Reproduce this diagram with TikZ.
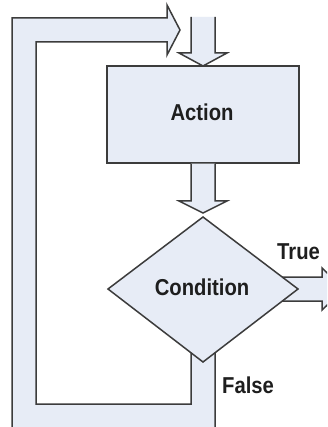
\documentclass[tikz,border=0pt]{standalone}
\usepackage{fontspec}
\setmainfont{Liberation Sans}
\definecolor{fillc}{HTML}{E7ECF6}
\definecolor{linec}{HTML}{3C3C3C}
\definecolor{txtc}{HTML}{1E1E1E}
\begin{document}
\begin{tikzpicture}[x=1pt,y=-1pt,
  blockshape/.style={fill=fillc, draw=linec, line width=1.5pt, line join=miter},
  lbl/.style={font=\bfseries\fontsize{23}{26}\selectfont, text=txtc, inner sep=0pt, xscale=0.88}]
\useasboundingbox (0,0) rectangle (327,427);
\clip (0,0) rectangle (327,427);
\fill[white] (0,0) rectangle (327,427);
% loop arrow (False path back to top)
\draw[blockshape] (215,330) -- (215,440) -- (12,440) -- (12,18) -- (167,18) -- (167,5)
  -- (180,30) -- (167,55) -- (167,42) -- (36,42) -- (36,404) -- (191,404) -- (191,330) -- cycle;
% True arrow
\draw[blockshape] (260,277) -- (322,277) -- (322,268) -- (344,289) -- (322,310) -- (322,301) -- (260,301) -- cycle;
% top arrow into Action
\fill[fillc] (191,17) -- (215,17) -- (215,53) -- (227,53) -- (203,66) -- (179,53) -- (191,53) -- cycle;
\draw[blockshape, fill=none] (191,17) -- (191,53) -- (179,53) -- (203,66) -- (227,53) -- (215,53) -- (215,17);
% Action box
\node[blockshape, rectangle, minimum width=192pt, minimum height=97pt, inner sep=0pt] (action) at (203,114.5) {};
\node[lbl] (actiontxt) at (202,112) {Action};
% arrow Action -> Condition
\draw[blockshape] (action.south -| 191,0) -- (191,201) -- (179,201) -- (203,213) -- (227,201) -- (215,201) -- (action.south -| 215,0);
% Condition diamond
\coordinate (dtop) at (203,217);
\coordinate (dright) at (298,289);
\coordinate (dbottom) at (203,362);
\coordinate (dleft) at (108,289);
\draw[blockshape] (dtop) -- (dright) -- (dbottom) -- (dleft) -- cycle;
\node[lbl] (cond) at (202,287) {Condition};
\node[lbl, anchor=west] (truel) at (277,252) {True};
\node[lbl, anchor=west] (falsel) at (222,385) {False};
\end{tikzpicture}
\end{document}
